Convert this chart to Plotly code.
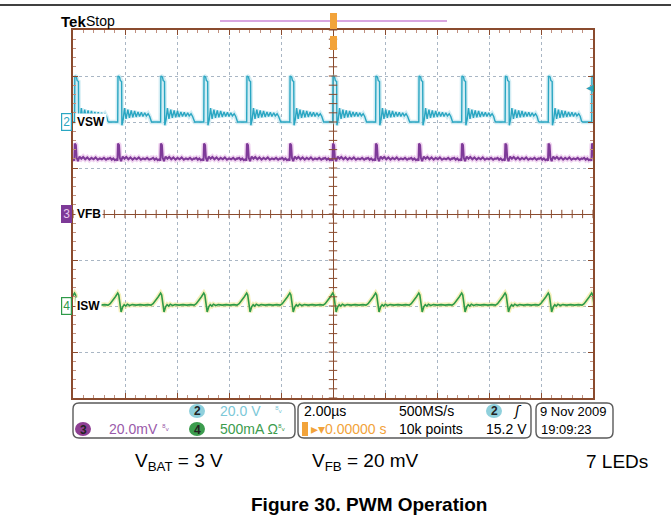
import numpy as np
import plotly.graph_objects as go

# ---------------- data ----------------
# time of each switching edge, microseconds (2 us/div, trigger at 0)
spike_times = [-9.93, -8.27, -6.62, -4.96, -3.31, -1.65, 0.0, 1.65, 3.31, 4.96, 6.63, 8.29, 9.96]

# one switching cycle of each channel (offset in us, level in divisions)
vsw_offsets = [-0.36, -0.01, 0.0, 0.06, 0.09, 0.14, 0.15, 0.20, 0.25, 0.31, 0.38, 0.44, 0.51, 0.57,
               0.64, 0.70, 0.77, 0.83, 0.90, 0.96, 1.03, 1.09, 1.16, 1.22, 1.27]
vsw_levels = [2.00, 2.00, 3.00, 2.98, 2.90, 2.88, 1.93, 2.05, 2.30, 2.07, 2.27, 2.09, 2.25, 2.10,
              2.24, 2.11, 2.22, 2.12, 2.21, 2.12, 2.20, 2.13, 2.18, 2.12, 2.02]

vfb_offsets = [-0.36, -0.30, -0.24, -0.18, -0.12, -0.06, -0.02, 0.0, 0.04, 0.07, 0.12, 0.18, 0.25,
               0.32, 0.40, 0.48, 0.56, 0.64, 0.72, 0.80, 0.88, 0.96, 1.04, 1.12, 1.20, 1.27]
vfb_levels = [1.20, 1.22, 1.18, 1.21, 1.17, 1.19, 1.16, 1.53, 1.50, 1.22, 1.15, 1.25, 1.20,
              1.24, 1.19, 1.23, 1.18, 1.22, 1.19, 1.23, 1.18, 1.21, 1.19, 1.22, 1.18, 1.21]

isw_offsets = [-0.38, -0.30, -0.20, -0.10, -0.01, 0.03, 0.12, 0.18, 0.24, 0.30, 0.36, 0.45,
               0.55, 0.70, 0.85, 1.00, 1.15, 1.27]
isw_levels = [-1.98, -1.95, -1.88, -1.80, -1.72, -1.76, -2.13, -2.02, -1.97, -2.00, -1.96, -1.99,
              -1.97, -1.98, -1.97, -1.98, -1.97, -1.98]

channel_labels = ["VSW", "VFB", "ISW"]
channel_ground = [2.0, 0.0, -2.0]
trigger_level_div = 2.76

CYAN = "#2AA6C2"
PURPLE = "#7E3A98"
GREEN = "#2E9A48"
ORANGE = "#F2A33A"
GRAT = "#8A4B2E"
SCOPE_FONT = "Liberation Sans, Arial, sans-serif"

# plot-area pixel geometry
L, R, T, B = 73, 593, 30, 398
W, H = 671, 531


def X(p):
    return (p - L) / (R - L)


def Y(p):
    return (B - p) / (B - T)


def build(offs, vals):
    xs, ys = [], []
    for t0 in spike_times:
        xs += [t0 + o for o in offs]
        ys += list(vals)
    return xs, ys


fig = go.Figure()

# channel traces with a soft halo underneath
for offs, vals, col, halo, w in [
    (vsw_offsets, vsw_levels, CYAN, "#A9DDEA", 1.4),
    (vfb_offsets, vfb_levels, PURPLE, "#E2A8E2", 2.0),
    (isw_offsets, isw_levels, GREEN, "#EDE37A", 1.6),
]:
    xs, ys = build(offs, vals)
    fig.add_trace(go.Scatter(x=xs, y=ys, mode="lines", line=dict(color=halo, width=w + 3),
                             opacity=0.5, hoverinfo="skip", showlegend=False))
    fig.add_trace(go.Scatter(x=xs, y=ys, mode="lines", line=dict(color=col, width=w),
                             hoverinfo="skip", showlegend=False))

# centre-line tick marks of the graticule
cx = np.arange(-10, 10.001, 0.4)
cy = np.arange(-4, 4.001, 0.2)
fig.add_trace(go.Scatter(x=cx, y=np.zeros_like(cx), mode="markers",
                         marker=dict(symbol="line-ns", size=6, line=dict(color=GRAT, width=1)),
                         hoverinfo="skip", showlegend=False))
fig.add_trace(go.Scatter(x=np.zeros_like(cy), y=cy, mode="markers",
                         marker=dict(symbol="line-ew", size=6, line=dict(color=GRAT, width=1)),
                         hoverinfo="skip", showlegend=False))

axis_common = dict(showticklabels=False, showline=True, linecolor=GRAT, linewidth=1.5, mirror="ticks",
                   showgrid=True, gridcolor="#A9B6C4", griddash="dot", gridwidth=1,
                   zeroline=True, zerolinecolor=GRAT, zerolinewidth=1.3,
                   ticks="inside", ticklen=5, tickcolor=GRAT, fixedrange=True)
fig.update_xaxes(range=[-10, 10], dtick=2, tick0=0,
                 minor=dict(ticks="inside", dtick=0.4, ticklen=3, tickcolor="#C09080"), **axis_common)
fig.update_yaxes(range=[-4, 4], dtick=1, tick0=0,
                 minor=dict(ticks="inside", dtick=0.2, ticklen=3, tickcolor="#C09080"), **axis_common)

shapes = []
ann = []


def rrect(x0, y0, x1, y1, r, color="#5A5A5A", width=1.4):
    pts = [("M", x0 + r, y0), ("L", x1 - r, y0), ("Q", x1, y0, x1, y0 + r), ("L", x1, y1 - r),
           ("Q", x1, y1, x1 - r, y1), ("L", x0 + r, y1), ("Q", x0, y1, x0, y1 - r),
           ("L", x0, y0 + r), ("Q", x0, y0, x0 + r, y0)]
    s = ""
    for p in pts:
        if p[0] == "Q":
            s += f"Q{X(p[1]):.5f},{Y(p[2]):.5f} {X(p[3]):.5f},{Y(p[4]):.5f} "
        else:
            s += f"{p[0]}{X(p[1]):.5f},{Y(p[2]):.5f} "
    s += "Z"
    shapes.append(dict(type="path", path=s, xref="paper", yref="paper",
                       line=dict(color=color, width=width), layer="above"))


def text(x, y, t, size=14, color="black", anchor="left", family=SCOPE_FONT, bg=None):
    d = dict(x=X(x), y=Y(y), xref="paper", yref="paper", text=t, showarrow=False,
             xanchor=anchor, yanchor="middle",
             font=dict(size=size, color=color, family=family))
    if bg:
        d["bgcolor"] = bg
    ann.append(d)


def badge(cx_, cy_, num, fill, txtcol="#222"):
    shapes.append(dict(type="circle", xref="paper", yref="paper", x0=X(cx_ - 8), x1=X(cx_ + 8),
                       y0=Y(cy_ + 7), y1=Y(cy_ - 7), fillcolor=fill, line=dict(width=0), layer="above"))
    text(cx_, cy_ + 0.5, "<b>" + num + "</b>", size=12, color=txtcol, anchor="center")


# page rule
shapes.append(dict(type="line", xref="paper", yref="paper", x0=X(0), x1=X(W), y0=Y(5), y1=Y(5),
                   line=dict(color="black", width=1.5)))

# header
text(59, 21, "<b>Tek</b>", size=15, color="black")
text(84, 21, "Stop", size=14, color="black")
shapes.append(dict(type="line", xref="paper", yref="paper", x0=X(220), x1=X(447), y0=Y(21), y1=Y(21),
                   line=dict(color="#D9A6E0", width=2)))
shapes.append(dict(type="rect", xref="paper", yref="paper", x0=X(330), x1=X(337), y0=Y(29), y1=Y(13),
                   fillcolor=ORANGE, line=dict(width=0)))
shapes.append(dict(type="rect", xref="paper", yref="paper", x0=X(330), x1=X(337), y0=Y(50), y1=Y(36),
                   fillcolor=ORANGE, line=dict(width=0)))

# trigger level arrow on the right
text(590, 214 - trigger_level_div * 46, "◀", size=10, color=CYAN, anchor="center",
     family="DejaVu Sans")

# channel ground markers and labels
marker_cols = [(CYAN, "white", CYAN), (PURPLE, PURPLE, "#E8C8EE"), (GREEN, "white", GREEN)]
for lab, g, (bc, fc, tc), num in zip(channel_labels, channel_ground, marker_cols, ["2", "3", "4"]):
    yp = 214 - g * 46
    ann.append(dict(x=X(66), y=Y(yp), xref="paper", yref="paper", text=num, showarrow=False,
                    xanchor="center", yanchor="middle", bgcolor=fc, bordercolor=bc, borderwidth=1.2,
                    borderpad=1, font=dict(size=12, color=tc, family=SCOPE_FONT)))
    text(75, yp, "<b>" + lab + "</b>", size=12, color="black", bg="white")

# bottom status boxes
rrect(73, 403, 295, 438, 6)
rrect(298, 403, 531, 438, 6)
rrect(536, 403, 613, 438, 6)

r1, r2 = 411, 429
badge(197, r1, "2", "#8FD0DC")
text(218, r1, "20.0 V", size=14, color="#7CC8D8")
text(273, r1 - 1, "⁸ᵥ", size=9, color="#7CC8D8", family="DejaVu Sans")
badge(83, r2, "3", "#8E3F93")
text(107, r2, "20.0mV", size=14, color="#9A5AAA")
text(160, r2 - 1, "⁸ᵥ", size=9, color="#9A5AAA", family="DejaVu Sans")
badge(197, r2, "4", "#3C9C4E")
text(218, r2, "500mA Ω", size=14, color="#3C9C4E")
text(276, r2 - 1, "⁸ᵥ", size=9, color="#3C9C4E", family="DejaVu Sans")

text(302, r1, "2.00µs", size=14, color="black")
text(397, r1, "500MS/s", size=14, color="black")
badge(494, r1, "2", "#8FD0DC")
text(511, r1, "<i>ʃ</i>", size=14, color="black", family="DejaVu Sans")
shapes.append(dict(type="rect", xref="paper", yref="paper", x0=X(302), x1=X(308), y0=Y(436), y1=Y(422),
                   fillcolor=ORANGE, line=dict(width=0)))
text(309, r2, "▸▾0.00000 s", size=14, color=ORANGE)
text(397, r2, "10k points", size=14, color="black")
text(529, r2, "15.2 V", size=14, color="black", anchor="right")

text(609, r1, "9 Nov 2009", size=13, color="black", anchor="right")
text(539, r2, "19:09:23", size=13, color="black")

# caption texts
CAP = "Liberation Sans, Arial, sans-serif"
text(133, 462, "V<sub>BAT</sub> = 3 V", size=19, color="black", family=CAP)
text(310, 462, "V<sub>FB</sub> = 20 mV", size=19, color="black", family=CAP)
text(650, 462, "7 LEDs", size=19, color="black", anchor="right", family=CAP)
text(369, 505, "<b>Figure 30. PWM Operation</b>", size=19, color="black", anchor="center", family=CAP)

fig.update_layout(width=W, height=H, autosize=False,
                  margin=dict(l=L, r=W - R, t=T, b=H - B, pad=0),
                  paper_bgcolor="white", plot_bgcolor="white",
                  shapes=shapes, annotations=ann, showlegend=False)

fig.write_html("out.html", config={"displayModeBar": False},
               post_script="document.body.style.margin='0';document.body.style.overflow='hidden';")
